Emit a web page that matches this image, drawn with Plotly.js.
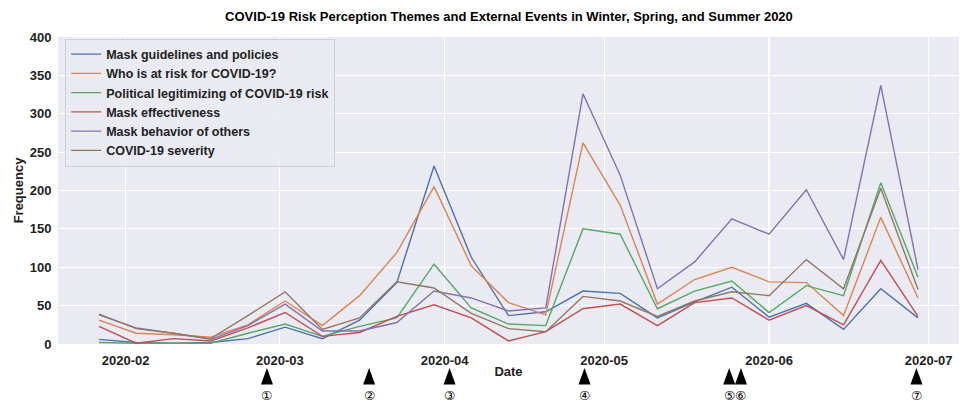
<!DOCTYPE html>
<html>
<head>
<meta charset="utf-8">
<script src="https://cdn.plot.ly/plotly-3.0.1.min.js"></script>
<style>html,body{margin:0;padding:0;background:#fff;}#chart{width:964px;height:404px;}</style>
</head>
<body>
<div id="chart"></div>
<script>
const dates = ['2020-01-27','2020-02-03','2020-02-10','2020-02-17','2020-02-24','2020-03-02','2020-03-09','2020-03-16','2020-03-23','2020-03-30','2020-04-06','2020-04-13','2020-04-20','2020-04-27','2020-05-04','2020-05-11','2020-05-18','2020-05-25','2020-06-01','2020-06-08','2020-06-15','2020-06-22','2020-06-29'];

const seriesNames = ['Mask guidelines and policies','Who is at risk for COVID-19?','Political legitimizing of COVID-19 risk','Mask effectiveness','Mask behavior of others','COVID-19 severity'];

const maskGuidelines = [6, 2, 1, 2, 7, 22, 7, 31, 80, 232, 113, 37, 42, 69, 66, 34, 55, 74, 35, 53, 19, 72, 34];
const whoAtRisk      = [31, 14, 12, 9, 25, 56, 24, 63, 119, 205, 102, 54, 38, 262, 181, 52, 84, 100, 81, 80, 37, 165, 60];
const politicalLegit = [2, 1, 1, 1, 14, 26, 10, 23, 34, 104, 47, 26, 24, 150, 143, 46, 69, 82, 41, 76, 63, 210, 87];
const maskEffect     = [23, 1, 7, 4, 21, 41, 10, 15, 36, 51, 34, 4, 16, 46, 52, 24, 54, 60, 31, 50, 25, 109, 36];
const maskBehavior   = [38, 21, 14, 6, 24, 52, 17, 17, 28, 69, 60, 43, 47, 326, 220, 72, 107, 163, 143, 201, 110, 337, 97];
const covidSeverity  = [39, 20, 14, 7, 37, 68, 19, 34, 81, 73, 40, 20, 16, 62, 56, 36, 56, 68, 63, 110, 72, 203, 71];

const seriesValues = [maskGuidelines, whoAtRisk, politicalLegit, maskEffect, maskBehavior, covidSeverity];
const colors = ['#4c72b0','#dd8452','#55a868','#c44e52','#8172b3','#937860'];

const eventDates = ['2020-02-27 14:00','2020-03-17 19:00','2020-04-01 22:00','2020-04-27 07:00','2020-05-24 12:00','2020-05-26 17:00','2020-06-28 17:00'];
const eventLabels = ['①','②','③','④','⑤','⑥','⑦'];

const yTicks = [0,50,100,150,200,250,300,350,400];

const FONT = 'Liberation Sans, Arial, sans-serif';

const traces = seriesNames.map((name, i) => ({
  x: dates,
  y: seriesValues[i],
  name: name,
  type: 'scatter',
  mode: 'lines',
  line: {color: colors[i], width: 1.4}
}));

const shapes = eventDates.map(d => ({
  type: 'path',
  xref: 'x', yref: 'paper',
  xsizemode: 'pixel', ysizemode: 'pixel',
  xanchor: d, yanchor: -0.1319,
  path: 'M -6,0 L 6,0 L 0,16.5 Z',
  fillcolor: '#000000',
  line: {width: 0}
}));

const annotations = eventDates.map((d, i) => ({
  x: d, xref: 'x',
  y: -0.168, yref: 'paper',
  text: eventLabels[i],
  showarrow: false,
  borderpad: 0,
  xanchor: 'center', yanchor: 'middle',
  font: {family: 'DejaVu Sans', size: 12.5, color: '#000'}
}));

const layout = {
  width: 964, height: 404,
  margin: {l: 58, r: 5, t: 37, b: 60},
  paper_bgcolor: '#ffffff',
  plot_bgcolor: '#eaeaf2',
  title: {
    text: 'COVID-19 Risk Perception Themes and External Events in Winter, Spring, and Summer 2020',
    font: {family: FONT, size: 13, color: '#000', weight: 'bold'},
    x: 0.528, xanchor: 'center',
    y: 0.96, yanchor: 'middle'
  },
  xaxis: {
    type: 'date',
    range: ['2020-01-19 07:00', '2020-07-06 17:00'],
    tick0: '2020-01-01', dtick: 'M1',
    tickformat: '%Y-%m',
    showgrid: true, gridcolor: '#ffffff', gridwidth: 1.2,
    zeroline: false, showline: false,
    ticks: 'outside', ticklen: 4, tickcolor: 'rgba(0,0,0,0)',
    tickfont: {family: FONT, size: 13, color: '#222', weight: 'bold'},
    title: {text: 'Date', font: {family: FONT, size: 13, color: '#222', weight: 'bold'}, standoff: 0}
  },
  yaxis: {
    range: [0, 400],
    tickvals: yTicks,
    showgrid: true, gridcolor: '#ffffff', gridwidth: 1.2,
    zeroline: false, showline: false,
    ticks: 'outside', ticklen: 3, tickcolor: 'rgba(0,0,0,0)',
    tickfont: {family: FONT, size: 13, color: '#222', weight: 'bold'},
    title: {text: 'Frequency', font: {family: FONT, size: 13, color: '#222', weight: 'bold'}, standoff: 3}
  },
  legend: {
    x: 0.008, y: 0.995, xanchor: 'left', yanchor: 'top',
    bgcolor: 'rgba(234,234,242,0.85)',
    bordercolor: '#d0d0d8', borderwidth: 1,
    font: {family: FONT, size: 12.5, color: '#222', weight: 'bold'},
    tracegroupgap: 0
  },
  showlegend: true,
  shapes: shapes,
  annotations: annotations
};

Plotly.newPlot('chart', traces, layout, {displayModeBar: false, staticPlot: true});
</script>
</body>
</html>
